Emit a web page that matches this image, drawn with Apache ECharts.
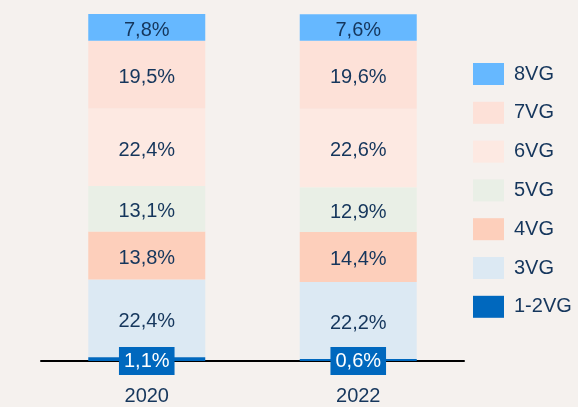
<!DOCTYPE html>
<html><head><meta charset="utf-8">
<script src="https://cdn.jsdelivr.net/npm/echarts@6/dist/echarts.min.js"></script>
<style>html,body{margin:0;padding:0;background:#f5f1ee;}#c{width:578px;height:407px;}</style>
</head><body><div id="c"></div>
<script>
const categories = ['2020', '2022'];
const seriesNames = ['1-2VG', '3VG', '4VG', '5VG', '6VG', '7VG', '8VG'];
const v12 = [1.1, 0.6];
const v3 = [22.4, 22.2];
const v4 = [13.8, 14.4];
const v5 = [13.1, 12.9];
const v6 = [22.4, 22.6];
const v7 = [19.5, 19.6];
const v8 = [7.8, 7.6];
const values = [v12, v3, v4, v5, v6, v7, v8];
const colors = ['#0068be', '#dce9f3', '#fdcfbb', '#e9efe6', '#fde9e2', '#fde1d8', '#66b8ff'];

const navy = '#15365c';
const ff = '"Liberation Sans", Arial, sans-serif';
const fmt = p => p.value.toFixed(1).replace('.', ',') + '%';

const series = seriesNames.map((n, i) => {
  const s = {
    name: n, type: 'bar', stack: 'a', barWidth: 117,
    data: values[i], itemStyle: { color: colors[i] },
    label: { show: true, position: 'inside', formatter: fmt, color: navy,
      fontFamily: ff, fontSize: 20, offset: [0, 3] }
  };
  if (i === 0) {
    s.label = { show: true, position: ['50%', '100%'], align: 'center', verticalAlign: 'middle',
      formatter: fmt, color: '#ffffff', fontFamily: ff, fontSize: 20,
      backgroundColor: '#0068be', padding: [4, 5, 4, 5], lineHeight: 20 };
    s.z = 5;
  }
  return s;
});

const chart = echarts.init(document.getElementById('c'));
chart.setOption({
  backgroundColor: '#f5f1ee',
  animation: false,
  grid: { left: 41, right: 114, top: 14, bottom: 46 },
  xAxis: {
    type: 'category', data: categories,
    axisLine: { lineStyle: { color: '#000', width: 2 } },
    axisTick: { show: false },
    axisLabel: { color: navy, fontSize: 20, margin: 25, fontFamily: ff }
  },
  yAxis: { type: 'value', min: 0, max: 100, show: false, splitLine: { show: false } },
  legend: {
    orient: 'vertical', left: 473, top: 63, padding: 0,
    itemWidth: 31, itemHeight: 22, itemGap: 16.8,
    data: seriesNames.slice().reverse(),
    textStyle: { color: navy, fontSize: 20, lineHeight: 22, fontFamily: ff, padding: [0, 0, 0, 5] },
    icon: 'rect'
  },
  series: series
});
</script></body></html>
